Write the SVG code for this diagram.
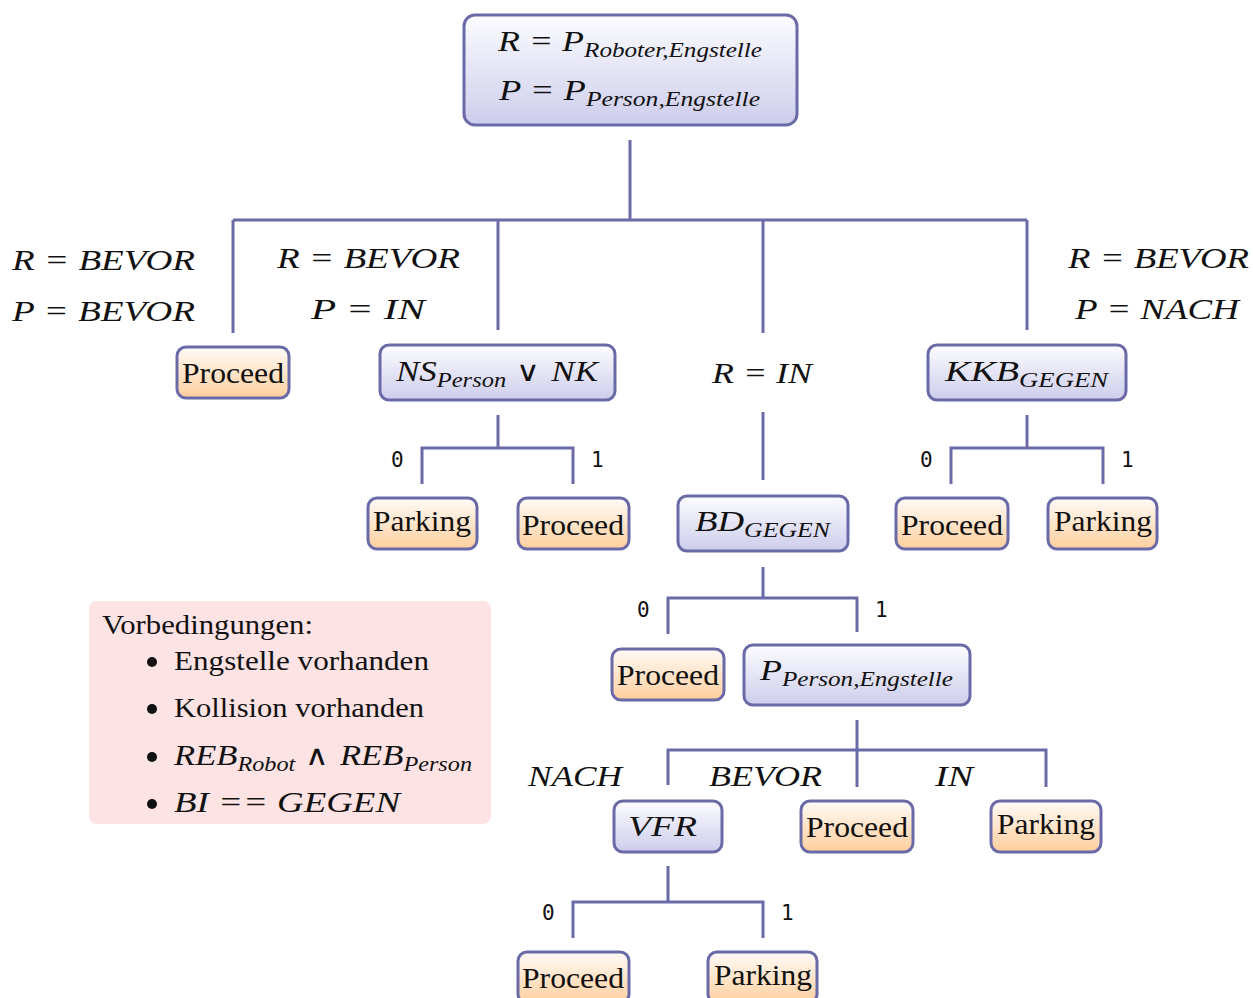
<svg xmlns="http://www.w3.org/2000/svg" width="1253" height="998" viewBox="0 0 1253 998">
  <defs>
    <linearGradient id="gBlue" x1="0" y1="0" x2="0" y2="1">
      <stop offset="0" stop-color="#fcfcff"/>
      <stop offset="1" stop-color="#cdcdec"/>
    </linearGradient>
    <linearGradient id="gOrange" x1="0" y1="0" x2="0" y2="1">
      <stop offset="0" stop-color="#fffbf7"/>
      <stop offset="1" stop-color="#ffcf9e"/>
    </linearGradient>
  </defs>
  <style>
    .dec { fill: url(#gBlue); stroke: #6a6aa8; stroke-width: 3; }
    .leaf { fill: url(#gOrange); stroke: #6a6aa8; stroke-width: 3; }
    .edge { fill: none; stroke: #6a6aa8; stroke-width: 3; }
    .rm { font-family: "Liberation Serif", "DejaVu Serif", serif; font-size: 30px; fill: #111; }
    .mi { font-family: "Liberation Serif", "DejaVu Serif", serif; font-style: italic; font-size: 30px; fill: #111; }
    .sub { font-size: 21px; }
    .op { font-style: normal; font-family: "DejaVu Sans", sans-serif; font-weight: 200; font-size: 28px; }
    .bit { font-family: "DejaVu Sans Mono", "Liberation Mono", monospace; font-size: 21px; fill: #111; }
    .note { font-family: "Liberation Serif", "DejaVu Serif", serif; font-size: 28px; fill: #111; }
  </style>

  <!-- connectors -->
  <g id="connectors">
    <path class="edge" d="M630 140 V220 M233 220 H1027 M233 220 V333 M498 220 V330 M763 220 V333 M1027 220 V330"/>
    <path class="edge" d="M763 412 V480"/>
    <path class="edge" d="M498 415 V448 M422 484 V448 H573 V484"/>
    <path class="edge" d="M1027 415 V448 M951 484 V448 H1103 V484"/>
    <path class="edge" d="M763 567 V598 M668 634 V598 H857 V632"/>
    <path class="edge" d="M857 720 V750 M668 785 V750 H1046 V787 M857 750 V787"/>
    <path class="edge" d="M668 866 V902 M573 938 V902 H763 V938"/>
  </g>

  <!-- edge labels -->
  <g id="edge-labels">
    <text class="mi" x="12" y="270" textLength="183" lengthAdjust="spacingAndGlyphs">R = BEVOR</text>
    <text class="mi" x="12" y="321" textLength="183" lengthAdjust="spacingAndGlyphs">P = BEVOR</text>
    <text class="mi" x="277" y="268" textLength="183" lengthAdjust="spacingAndGlyphs">R = BEVOR</text>
    <text class="mi" x="311" y="319" textLength="114" lengthAdjust="spacingAndGlyphs">P = IN</text>
    <text class="mi" x="1068" y="268" textLength="181" lengthAdjust="spacingAndGlyphs">R = BEVOR</text>
    <text class="mi" x="1075" y="319" textLength="164" lengthAdjust="spacingAndGlyphs">P = NACH</text>
    <text class="mi" x="712" y="383" textLength="100" lengthAdjust="spacingAndGlyphs">R = IN</text>
    <text class="bit" x="391" y="467">0</text>
    <text class="bit" x="591" y="467">1</text>
    <text class="bit" x="920" y="467">0</text>
    <text class="bit" x="1121" y="467">1</text>
    <text class="bit" x="637" y="617">0</text>
    <text class="bit" x="875" y="617">1</text>
    <text class="mi" x="528" y="786" textLength="94" lengthAdjust="spacingAndGlyphs">NACH</text>
    <text class="mi" x="709" y="786" textLength="113" lengthAdjust="spacingAndGlyphs">BEVOR</text>
    <text class="mi" x="935" y="786" textLength="38" lengthAdjust="spacingAndGlyphs">IN</text>
    <text class="bit" x="542" y="920">0</text>
    <text class="bit" x="781" y="920">1</text>
  </g>

  <!-- root -->
  <g id="root">
    <rect class="dec" x="464" y="15" width="333" height="110" rx="11"/>
    <text class="mi" x="498" y="51" textLength="264" lengthAdjust="spacingAndGlyphs">R = P<tspan class="sub" dy="6">Roboter,Engstelle</tspan></text>
    <text class="mi" x="499" y="100" textLength="261" lengthAdjust="spacingAndGlyphs">P = P<tspan class="sub" dy="6">Person,Engstelle</tspan></text>
  </g>

  <!-- level 1 -->
  <g id="proceed-1">
    <rect class="leaf" x="177" y="347" width="112" height="51" rx="9"/>
    <text class="rm" x="233" y="383" text-anchor="middle" textLength="102" lengthAdjust="spacingAndGlyphs">Proceed</text>
  </g>
  <g id="ns-nk">
    <rect class="dec" x="380" y="345" width="235" height="55" rx="9"/>
    <text class="mi" x="396" y="381" textLength="202" lengthAdjust="spacingAndGlyphs">NS<tspan class="sub" dy="6">Person</tspan><tspan class="op" dy="-6"> ∨ </tspan>NK</text>
  </g>
  <g id="kkb">
    <rect class="dec" x="928" y="345" width="198" height="55" rx="9"/>
    <text class="mi" x="945" y="381" textLength="163" lengthAdjust="spacingAndGlyphs">KKB<tspan class="sub" dy="6">GEGEN</tspan></text>
  </g>

  <!-- level 2 -->
  <g id="parking-ns">
    <rect class="leaf" x="368" y="498" width="109" height="51" rx="9"/>
    <text class="rm" x="422" y="531" text-anchor="middle" textLength="98" lengthAdjust="spacingAndGlyphs">Parking</text>
  </g>
  <g id="proceed-ns">
    <rect class="leaf" x="518" y="498" width="111" height="51" rx="9"/>
    <text class="rm" x="573" y="535" text-anchor="middle" textLength="102" lengthAdjust="spacingAndGlyphs">Proceed</text>
  </g>
  <g id="bd">
    <rect class="dec" x="678" y="496" width="170" height="55" rx="9"/>
    <text class="mi" x="695" y="531" textLength="135" lengthAdjust="spacingAndGlyphs">BD<tspan class="sub" dy="6">GEGEN</tspan></text>
  </g>
  <g id="proceed-kkb">
    <rect class="leaf" x="896" y="498" width="112" height="51" rx="9"/>
    <text class="rm" x="952" y="535" text-anchor="middle" textLength="102" lengthAdjust="spacingAndGlyphs">Proceed</text>
  </g>
  <g id="parking-kkb">
    <rect class="leaf" x="1048" y="498" width="109" height="51" rx="9"/>
    <text class="rm" x="1103" y="531" text-anchor="middle" textLength="98" lengthAdjust="spacingAndGlyphs">Parking</text>
  </g>

  <!-- level 3 -->
  <g id="proceed-bd">
    <rect class="leaf" x="612" y="649" width="112" height="51" rx="9"/>
    <text class="rm" x="668" y="685" text-anchor="middle" textLength="102" lengthAdjust="spacingAndGlyphs">Proceed</text>
  </g>
  <g id="p-person">
    <rect class="dec" x="744" y="645" width="226" height="60" rx="9"/>
    <text class="mi" x="760" y="680" textLength="193" lengthAdjust="spacingAndGlyphs">P<tspan class="sub" dy="6">Person,Engstelle</tspan></text>
  </g>

  <!-- level 4 -->
  <g id="vfr">
    <rect class="dec" x="614" y="801" width="108" height="51" rx="9"/>
    <text class="mi" x="628" y="836" textLength="69" lengthAdjust="spacingAndGlyphs">VFR</text>
  </g>
  <g id="proceed-bevor">
    <rect class="leaf" x="801" y="801" width="112" height="51" rx="9"/>
    <text class="rm" x="857" y="837" text-anchor="middle" textLength="102" lengthAdjust="spacingAndGlyphs">Proceed</text>
  </g>
  <g id="parking-in">
    <rect class="leaf" x="991" y="801" width="110" height="51" rx="9"/>
    <text class="rm" x="1046" y="834" text-anchor="middle" textLength="98" lengthAdjust="spacingAndGlyphs">Parking</text>
  </g>

  <!-- level 5 -->
  <g id="proceed-vfr">
    <rect class="leaf" x="518" y="952" width="111" height="51" rx="9"/>
    <text class="rm" x="573" y="988" text-anchor="middle" textLength="102" lengthAdjust="spacingAndGlyphs">Proceed</text>
  </g>
  <g id="parking-vfr">
    <rect class="leaf" x="708" y="952" width="109" height="51" rx="9"/>
    <text class="rm" x="763" y="985" text-anchor="middle" textLength="98" lengthAdjust="spacingAndGlyphs">Parking</text>
  </g>

  <!-- preconditions -->
  <g id="preconditions">
    <rect x="89" y="601" width="402" height="223" rx="8" fill="#fde3e4"/>
    <text class="note" x="102" y="634" textLength="211" lengthAdjust="spacingAndGlyphs">Vorbedingungen:</text>
    <circle cx="152" cy="662" r="5" fill="#111"/>
    <text class="note" x="174" y="670" textLength="255" lengthAdjust="spacingAndGlyphs">Engstelle vorhanden</text>
    <circle cx="152" cy="709" r="5" fill="#111"/>
    <text class="note" x="174" y="717" textLength="250" lengthAdjust="spacingAndGlyphs">Kollision vorhanden</text>
    <circle cx="152" cy="757" r="5" fill="#111"/>
    <text class="mi" x="174" y="765" font-size="29" textLength="298" lengthAdjust="spacingAndGlyphs">REB<tspan class="sub" dy="6">Robot</tspan><tspan class="op" dy="-6"> ∧ </tspan>REB<tspan class="sub" dy="6">Person</tspan></text>
    <circle cx="152" cy="804" r="5" fill="#111"/>
    <text class="mi" x="174" y="812" font-size="29" textLength="226" lengthAdjust="spacingAndGlyphs">BI == GEGEN</text>
  </g>
</svg>
